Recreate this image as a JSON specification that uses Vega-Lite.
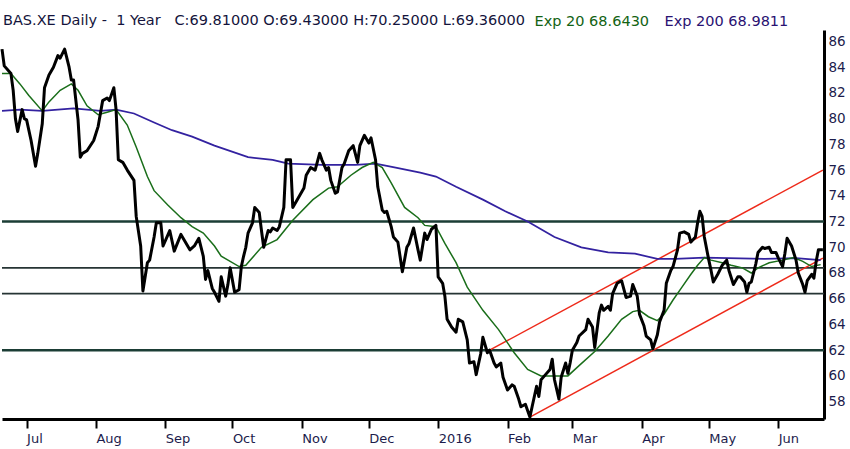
{
  "$schema": "https://vega.github.io/schema/vega-lite/v6.json",
  "width": 822,
  "height": 389,
  "autosize": {"type": "none"},
  "padding": {"left": 2, "top": 30, "right": 26, "bottom": 30},
  "background": "white",
  "title": {
    "text": "BAS.XE Daily -\u00a0 1 Year \u00a0 C:69.81000 O:69.43000 H:70.25000 L:69.36000",
    "anchor": "start",
    "frame": "group",
    "orient": "top",
    "baseline": "alphabetic",
    "offset": -10,
    "dx": 1,
    "dy": 14,
    "font": "DejaVu Sans",
    "fontSize": 14.5,
    "fontWeight": "normal",
    "color": "#14143c"
  },
  "datasets": {
    "levels": [
      {"price": 72, "kind": "major"},
      {"price": 62, "kind": "major"},
      {"price": 68.4, "kind": "minor"},
      {"price": 66.4, "kind": "minor"}
    ],
    "channel": [
      {"date": "2016-01-24", "price": 62.0, "band": "upper"},
      {"date": "2016-06-21", "price": 76.0, "band": "upper"},
      {"date": "2016-02-11", "price": 56.8, "band": "lower"},
      {"date": "2016-06-21", "price": 69.15, "band": "lower"}
    ],
    "ema200": [
      {"date": "2015-06-20", "price": 80.6}, {"date": "2015-06-28", "price": 80.7},
      {"date": "2015-07-08", "price": 80.6}, {"date": "2015-07-22", "price": 80.8},
      {"date": "2015-08-03", "price": 80.6}, {"date": "2015-08-10", "price": 80.7},
      {"date": "2015-08-18", "price": 80.4}, {"date": "2015-08-27", "price": 79.7},
      {"date": "2015-09-04", "price": 79.1}, {"date": "2015-09-13", "price": 78.6},
      {"date": "2015-09-23", "price": 77.9}, {"date": "2015-10-08", "price": 77.0},
      {"date": "2015-10-19", "price": 76.8}, {"date": "2015-10-26", "price": 76.5},
      {"date": "2015-11-10", "price": 76.4}, {"date": "2015-11-25", "price": 76.4},
      {"date": "2015-12-04", "price": 76.5}, {"date": "2015-12-13", "price": 76.2},
      {"date": "2015-12-24", "price": 75.8}, {"date": "2015-12-31", "price": 75.5},
      {"date": "2016-01-09", "price": 74.7}, {"date": "2016-01-21", "price": 73.7},
      {"date": "2016-01-31", "price": 72.8}, {"date": "2016-02-10", "price": 72.0},
      {"date": "2016-02-22", "price": 70.8}, {"date": "2016-03-05", "price": 70.0},
      {"date": "2016-03-17", "price": 69.6}, {"date": "2016-03-29", "price": 69.5},
      {"date": "2016-04-08", "price": 69.1}, {"date": "2016-04-16", "price": 69.1},
      {"date": "2016-04-29", "price": 69.2}, {"date": "2016-05-26", "price": 69.1},
      {"date": "2016-06-09", "price": 69.15}, {"date": "2016-06-20", "price": 69.0}
    ],
    "ema20": [
      {"date": "2015-06-20", "price": 83.5}, {"date": "2015-06-24", "price": 83.5},
      {"date": "2015-06-28", "price": 82.7}, {"date": "2015-07-02", "price": 81.8},
      {"date": "2015-07-08", "price": 80.6}, {"date": "2015-07-11", "price": 81.3},
      {"date": "2015-07-16", "price": 82.2}, {"date": "2015-07-21", "price": 82.7},
      {"date": "2015-07-24", "price": 82.2}, {"date": "2015-07-28", "price": 81.0},
      {"date": "2015-08-02", "price": 80.3}, {"date": "2015-08-06", "price": 80.5},
      {"date": "2015-08-10", "price": 80.7}, {"date": "2015-08-15", "price": 79.5},
      {"date": "2015-08-19", "price": 77.8}, {"date": "2015-08-24", "price": 75.5},
      {"date": "2015-08-27", "price": 74.4}, {"date": "2015-09-02", "price": 73.3},
      {"date": "2015-09-08", "price": 72.3}, {"date": "2015-09-13", "price": 71.6},
      {"date": "2015-09-18", "price": 71.1}, {"date": "2015-09-23", "price": 70.1},
      {"date": "2015-09-26", "price": 69.3}, {"date": "2015-10-04", "price": 68.5},
      {"date": "2015-10-07", "price": 68.6}, {"date": "2015-10-14", "price": 70.0},
      {"date": "2015-10-21", "price": 70.6}, {"date": "2015-10-28", "price": 72.1},
      {"date": "2015-11-06", "price": 73.7}, {"date": "2015-11-13", "price": 74.6},
      {"date": "2015-11-17", "price": 74.7}, {"date": "2015-11-23", "price": 75.6},
      {"date": "2015-11-28", "price": 76.2}, {"date": "2015-12-03", "price": 76.6},
      {"date": "2015-12-07", "price": 76.2}, {"date": "2015-12-11", "price": 75.0},
      {"date": "2015-12-17", "price": 73.1}, {"date": "2015-12-23", "price": 72.3},
      {"date": "2015-12-26", "price": 71.7}, {"date": "2015-12-31", "price": 71.6},
      {"date": "2016-01-04", "price": 70.3}, {"date": "2016-01-09", "price": 68.8},
      {"date": "2016-01-14", "price": 66.9}, {"date": "2016-01-21", "price": 65.1},
      {"date": "2016-01-28", "price": 63.6}, {"date": "2016-02-04", "price": 61.8},
      {"date": "2016-02-10", "price": 60.5}, {"date": "2016-02-16", "price": 60.0},
      {"date": "2016-02-22", "price": 60.0}, {"date": "2016-02-28", "price": 60.0},
      {"date": "2016-03-04", "price": 60.8}, {"date": "2016-03-11", "price": 61.9},
      {"date": "2016-03-17", "price": 63.1}, {"date": "2016-03-23", "price": 64.4},
      {"date": "2016-03-28", "price": 65.0}, {"date": "2016-03-31", "price": 65.1},
      {"date": "2016-04-04", "price": 64.6}, {"date": "2016-04-08", "price": 64.3},
      {"date": "2016-04-11", "price": 64.8}, {"date": "2016-04-15", "price": 65.9},
      {"date": "2016-04-19", "price": 66.9}, {"date": "2016-04-23", "price": 67.9},
      {"date": "2016-04-26", "price": 68.6}, {"date": "2016-04-29", "price": 69.2},
      {"date": "2016-05-02", "price": 69.0}, {"date": "2016-05-07", "price": 68.8},
      {"date": "2016-05-11", "price": 68.6}, {"date": "2016-05-16", "price": 68.4},
      {"date": "2016-05-20", "price": 68.0}, {"date": "2016-05-23", "price": 68.4},
      {"date": "2016-05-28", "price": 68.8}, {"date": "2016-06-03", "price": 69.0},
      {"date": "2016-06-08", "price": 69.2}, {"date": "2016-06-12", "price": 68.9},
      {"date": "2016-06-16", "price": 68.5}, {"date": "2016-06-20", "price": 68.65}
    ],
    "close": [
      {"date": "2015-06-20", "price": 85.4}, {"date": "2015-06-21", "price": 84.1},
      {"date": "2015-06-24", "price": 83.5}, {"date": "2015-06-25", "price": 82.2},
      {"date": "2015-06-26", "price": 80.0}, {"date": "2015-06-27", "price": 79.0},
      {"date": "2015-06-29", "price": 80.7}, {"date": "2015-06-30", "price": 80.0},
      {"date": "2015-07-01", "price": 79.9}, {"date": "2015-07-03", "price": 78.3},
      {"date": "2015-07-05", "price": 76.3}, {"date": "2015-07-06", "price": 77.3},
      {"date": "2015-07-08", "price": 79.6}, {"date": "2015-07-09", "price": 82.4},
      {"date": "2015-07-11", "price": 83.4}, {"date": "2015-07-13", "price": 84.0},
      {"date": "2015-07-15", "price": 84.9}, {"date": "2015-07-16", "price": 84.7},
      {"date": "2015-07-18", "price": 85.4}, {"date": "2015-07-20", "price": 84.0},
      {"date": "2015-07-21", "price": 83.0}, {"date": "2015-07-22", "price": 83.0},
      {"date": "2015-07-24", "price": 79.9}, {"date": "2015-07-25", "price": 77.0},
      {"date": "2015-07-26", "price": 77.3}, {"date": "2015-07-28", "price": 77.5},
      {"date": "2015-07-31", "price": 78.3}, {"date": "2015-08-02", "price": 79.4},
      {"date": "2015-08-04", "price": 81.4}, {"date": "2015-08-06", "price": 81.6},
      {"date": "2015-08-07", "price": 81.4}, {"date": "2015-08-09", "price": 82.4},
      {"date": "2015-08-10", "price": 80.7}, {"date": "2015-08-11", "price": 76.8},
      {"date": "2015-08-13", "price": 76.6}, {"date": "2015-08-15", "price": 76.0},
      {"date": "2015-08-18", "price": 75.2}, {"date": "2015-08-19", "price": 72.4},
      {"date": "2015-08-21", "price": 70.1}, {"date": "2015-08-22", "price": 66.6},
      {"date": "2015-08-24", "price": 68.8}, {"date": "2015-08-25", "price": 69.0},
      {"date": "2015-08-27", "price": 70.8}, {"date": "2015-08-28", "price": 71.9},
      {"date": "2015-08-30", "price": 71.9}, {"date": "2015-08-31", "price": 70.1},
      {"date": "2015-09-03", "price": 71.3}, {"date": "2015-09-05", "price": 69.7},
      {"date": "2015-09-08", "price": 71.0}, {"date": "2015-09-12", "price": 69.8},
      {"date": "2015-09-14", "price": 70.1}, {"date": "2015-09-16", "price": 70.7},
      {"date": "2015-09-18", "price": 69.3}, {"date": "2015-09-19", "price": 67.5},
      {"date": "2015-09-20", "price": 68.2}, {"date": "2015-09-22", "price": 66.8},
      {"date": "2015-09-23", "price": 66.5}, {"date": "2015-09-25", "price": 65.8},
      {"date": "2015-09-26", "price": 67.7}, {"date": "2015-09-28", "price": 66.2},
      {"date": "2015-09-29", "price": 67.1}, {"date": "2015-09-30", "price": 68.4},
      {"date": "2015-10-02", "price": 66.5}, {"date": "2015-10-04", "price": 66.7},
      {"date": "2015-10-05", "price": 68.5}, {"date": "2015-10-06", "price": 69.3},
      {"date": "2015-10-07", "price": 70.0}, {"date": "2015-10-08", "price": 71.1},
      {"date": "2015-10-10", "price": 71.9}, {"date": "2015-10-11", "price": 73.1},
      {"date": "2015-10-13", "price": 72.7}, {"date": "2015-10-14", "price": 71.3},
      {"date": "2015-10-15", "price": 70.0}, {"date": "2015-10-17", "price": 71.3},
      {"date": "2015-10-18", "price": 71.2}, {"date": "2015-10-19", "price": 71.5},
      {"date": "2015-10-21", "price": 71.3}, {"date": "2015-10-22", "price": 71.6},
      {"date": "2015-10-24", "price": 73.1}, {"date": "2015-10-25", "price": 76.8},
      {"date": "2015-10-27", "price": 76.8}, {"date": "2015-10-28", "price": 73.1},
      {"date": "2015-10-30", "price": 73.7}, {"date": "2015-11-02", "price": 74.6},
      {"date": "2015-11-03", "price": 75.6}, {"date": "2015-11-05", "price": 76.2},
      {"date": "2015-11-07", "price": 76.0}, {"date": "2015-11-09", "price": 77.3},
      {"date": "2015-11-10", "price": 76.8}, {"date": "2015-11-12", "price": 76.0},
      {"date": "2015-11-13", "price": 76.2}, {"date": "2015-11-14", "price": 75.2},
      {"date": "2015-11-16", "price": 74.2}, {"date": "2015-11-17", "price": 74.3},
      {"date": "2015-11-19", "price": 76.2}, {"date": "2015-11-20", "price": 76.5},
      {"date": "2015-11-22", "price": 77.5}, {"date": "2015-11-24", "price": 77.9},
      {"date": "2015-11-26", "price": 76.6}, {"date": "2015-11-27", "price": 77.9},
      {"date": "2015-11-29", "price": 78.7}, {"date": "2015-12-01", "price": 78.1},
      {"date": "2015-12-02", "price": 78.5}, {"date": "2015-12-04", "price": 76.8},
      {"date": "2015-12-05", "price": 74.7}, {"date": "2015-12-07", "price": 72.9},
      {"date": "2015-12-08", "price": 72.7}, {"date": "2015-12-09", "price": 72.8},
      {"date": "2015-12-11", "price": 71.6}, {"date": "2015-12-12", "price": 70.8},
      {"date": "2015-12-14", "price": 70.4}, {"date": "2015-12-16", "price": 68.1},
      {"date": "2015-12-18", "price": 70.0}, {"date": "2015-12-19", "price": 70.3},
      {"date": "2015-12-21", "price": 71.5}, {"date": "2015-12-23", "price": 69.8},
      {"date": "2015-12-24", "price": 69.0}, {"date": "2015-12-26", "price": 71.1},
      {"date": "2015-12-27", "price": 70.6}, {"date": "2015-12-29", "price": 71.4},
      {"date": "2015-12-31", "price": 71.7}, {"date": "2016-01-01", "price": 67.7},
      {"date": "2016-01-03", "price": 67.2}, {"date": "2016-01-04", "price": 66.2},
      {"date": "2016-01-05", "price": 64.4}, {"date": "2016-01-07", "price": 63.8},
      {"date": "2016-01-09", "price": 63.4}, {"date": "2016-01-10", "price": 64.4},
      {"date": "2016-01-12", "price": 64.2}, {"date": "2016-01-14", "price": 62.8},
      {"date": "2016-01-15", "price": 61.0}, {"date": "2016-01-17", "price": 61.1},
      {"date": "2016-01-18", "price": 60.1}, {"date": "2016-01-20", "price": 61.7},
      {"date": "2016-01-21", "price": 63.0}, {"date": "2016-01-23", "price": 61.8},
      {"date": "2016-01-24", "price": 62.0}, {"date": "2016-01-26", "price": 61.0},
      {"date": "2016-01-27", "price": 60.7}, {"date": "2016-01-29", "price": 61.0},
      {"date": "2016-01-30", "price": 59.9}, {"date": "2016-02-01", "price": 58.9},
      {"date": "2016-02-03", "price": 59.3}, {"date": "2016-02-04", "price": 59.2},
      {"date": "2016-02-06", "price": 58.2}, {"date": "2016-02-07", "price": 57.6},
      {"date": "2016-02-09", "price": 57.8}, {"date": "2016-02-11", "price": 56.8},
      {"date": "2016-02-12", "price": 57.6}, {"date": "2016-02-14", "price": 59.2},
      {"date": "2016-02-15", "price": 58.4}, {"date": "2016-02-16", "price": 59.7},
      {"date": "2016-02-18", "price": 60.1}, {"date": "2016-02-20", "price": 60.5},
      {"date": "2016-02-21", "price": 61.3}, {"date": "2016-02-22", "price": 59.7},
      {"date": "2016-02-24", "price": 58.2}, {"date": "2016-02-25", "price": 59.9},
      {"date": "2016-02-27", "price": 61.0}, {"date": "2016-02-28", "price": 60.2},
      {"date": "2016-02-29", "price": 61.0}, {"date": "2016-03-01", "price": 62.0},
      {"date": "2016-03-03", "price": 62.6}, {"date": "2016-03-04", "price": 63.1},
      {"date": "2016-03-07", "price": 63.6}, {"date": "2016-03-08", "price": 64.4},
      {"date": "2016-03-10", "price": 63.8}, {"date": "2016-03-11", "price": 62.2},
      {"date": "2016-03-13", "price": 64.9}, {"date": "2016-03-14", "price": 65.5},
      {"date": "2016-03-15", "price": 65.1}, {"date": "2016-03-17", "price": 65.4},
      {"date": "2016-03-18", "price": 65.1}, {"date": "2016-03-19", "price": 66.4},
      {"date": "2016-03-21", "price": 67.2}, {"date": "2016-03-23", "price": 67.4},
      {"date": "2016-03-25", "price": 66.1}, {"date": "2016-03-27", "price": 66.2},
      {"date": "2016-03-28", "price": 67.1}, {"date": "2016-03-30", "price": 66.2},
      {"date": "2016-03-31", "price": 64.8}, {"date": "2016-04-02", "price": 63.9},
      {"date": "2016-04-03", "price": 63.1}, {"date": "2016-04-05", "price": 62.8},
      {"date": "2016-04-06", "price": 62.1}, {"date": "2016-04-08", "price": 63.2},
      {"date": "2016-04-09", "price": 64.2}, {"date": "2016-04-11", "price": 65.1},
      {"date": "2016-04-12", "price": 67.2}, {"date": "2016-04-14", "price": 68.2},
      {"date": "2016-04-15", "price": 68.5}, {"date": "2016-04-17", "price": 69.8},
      {"date": "2016-04-18", "price": 71.1}, {"date": "2016-04-20", "price": 71.2},
      {"date": "2016-04-22", "price": 71.0}, {"date": "2016-04-23", "price": 70.4},
      {"date": "2016-04-25", "price": 70.8}, {"date": "2016-04-26", "price": 71.9},
      {"date": "2016-04-27", "price": 72.8}, {"date": "2016-04-28", "price": 72.4},
      {"date": "2016-04-29", "price": 70.8}, {"date": "2016-05-01", "price": 69.0},
      {"date": "2016-05-02", "price": 68.2}, {"date": "2016-05-03", "price": 67.3},
      {"date": "2016-05-05", "price": 67.9}, {"date": "2016-05-07", "price": 68.6},
      {"date": "2016-05-09", "price": 69.0}, {"date": "2016-05-10", "price": 68.2},
      {"date": "2016-05-12", "price": 67.1}, {"date": "2016-05-14", "price": 67.7},
      {"date": "2016-05-15", "price": 67.7}, {"date": "2016-05-17", "price": 67.3},
      {"date": "2016-05-18", "price": 66.5}, {"date": "2016-05-19", "price": 67.2},
      {"date": "2016-05-20", "price": 67.3}, {"date": "2016-05-22", "price": 68.7},
      {"date": "2016-05-23", "price": 69.6}, {"date": "2016-05-25", "price": 70.0},
      {"date": "2016-05-26", "price": 69.9}, {"date": "2016-05-28", "price": 70.0},
      {"date": "2016-05-29", "price": 69.6}, {"date": "2016-05-31", "price": 69.6},
      {"date": "2016-06-01", "price": 69.2}, {"date": "2016-06-03", "price": 68.5},
      {"date": "2016-06-04", "price": 69.5}, {"date": "2016-06-05", "price": 70.7},
      {"date": "2016-06-07", "price": 70.1}, {"date": "2016-06-09", "price": 69.0},
      {"date": "2016-06-10", "price": 68.0}, {"date": "2016-06-12", "price": 67.1},
      {"date": "2016-06-13", "price": 66.5}, {"date": "2016-06-14", "price": 67.4},
      {"date": "2016-06-16", "price": 67.9}, {"date": "2016-06-17", "price": 67.6},
      {"date": "2016-06-18", "price": 68.9}, {"date": "2016-06-19", "price": 69.8},
      {"date": "2016-06-21", "price": 69.8}
    ]
  },
  "encoding": {
    "y": {
      "field": "price",
      "type": "quantitative",
      "scale": {"domain": [56.65, 86.89], "nice": false, "zero": false},
      "axis": {
        "orient": "right",
        "title": null,
        "values": [58, 60, 62, 64, 66, 68, 70, 72, 74, 76, 78, 80, 82, 84, 86],
        "grid": false,
        "ticks": false,
        "domainColor": "#000000",
        "domainWidth": 3,
        "labelPadding": 4,
        "labelFont": "DejaVu Sans",
        "labelFontSize": 13.5,
        "labelColor": "#1c1c4c",
        "labelFlush": false
      }
    }
  },
  "layer": [
    {
      "data": {"name": "levels"},
      "transform": [{"filter": "datum.kind == 'major'"}],
      "mark": {"type": "rule", "color": "#1b3d35", "strokeWidth": 2.6}
    },
    {
      "data": {"name": "levels"},
      "transform": [{"filter": "datum.kind == 'minor'"}],
      "mark": {"type": "rule", "color": "#263434", "strokeWidth": 1.6}
    },
    {
      "data": {"name": "channel"},
      "mark": {"type": "line", "color": "#ee2a1a", "strokeWidth": 1.5},
      "encoding": {
        "x": {
          "field": "date",
          "type": "temporal",
          "scale": {
            "type": "utc",
            "domain": [
              {"year": 2015, "month": 6, "date": 20, "utc": true},
              {"year": 2016, "month": 6, "date": 21, "hours": 12, "utc": true}
            ]
          },
          "axis": {
            "orient": "bottom",
            "title": null,
            "grid": false,
            "tickCount": {"interval": "month", "step": 1},
            "labelExpr": "utcFormat(datum.value, '%m') == '01' ? utcFormat(datum.value, '%Y') : utcFormat(datum.value, '%b')",
            "domainColor": "#000000",
            "domainWidth": 3,
            "tickColor": "#000000",
            "tickWidth": 2,
            "tickSize": 9,
            "labelAlign": "left",
            "labelBaseline": "top",
            "labelPadding": 4,
            "labelFont": "DejaVu Sans",
            "labelFontSize": 13,
            "labelColor": "#1c1c4c",
            "labelFlush": false,
            "labelOverlap": false
          }
        },
        "detail": {"field": "band"}
      }
    },
    {
      "data": {"name": "ema200"},
      "mark": {"type": "line", "strokeWidth": 1.8},
      "encoding": {
        "x": {"field": "date", "type": "temporal"},
        "color": {"datum": "ema200"}
      }
    },
    {
      "data": {"name": "ema20"},
      "mark": {"type": "line", "strokeWidth": 1.5},
      "encoding": {
        "x": {"field": "date", "type": "temporal"},
        "color": {"datum": "ema20"}
      }
    },
    {
      "data": {"name": "close"},
      "mark": {"type": "line", "strokeWidth": 3, "strokeJoin": "round"},
      "encoding": {
        "x": {"field": "date", "type": "temporal"},
        "color": {
          "datum": "close",
          "scale": {
            "domain": ["close", "ema20", "ema200"],
            "range": ["#000000", "#1a6e1a", "#3322a0"]
          },
          "legend": {
            "values": ["ema20", "ema200"],
            "orient": "none",
            "legendX": 518,
            "legendY": -15,
            "direction": "horizontal",
            "columns": 2,
            "title": null,
            "padding": 0,
            "symbolType": "circle",
            "symbolSize": 0,
            "symbolStrokeWidth": 0,
            "labelOffset": 0,
            "columnPadding": -17,
            "labelFont": "DejaVu Sans",
            "labelFontSize": 14.5,
            "labelLimit": 900,
            "labelExpr": "datum.value == 'ema20' ? 'Exp 20 68.6430' : 'Exp 200 68.9811'",
            "labelColor": {"expr": "datum.value == 'ema20' ? '#136313' : '#2a1272'"}
          }
        }
      }
    }
  ],
  "config": {
    "view": {"stroke": null}
  }
}
